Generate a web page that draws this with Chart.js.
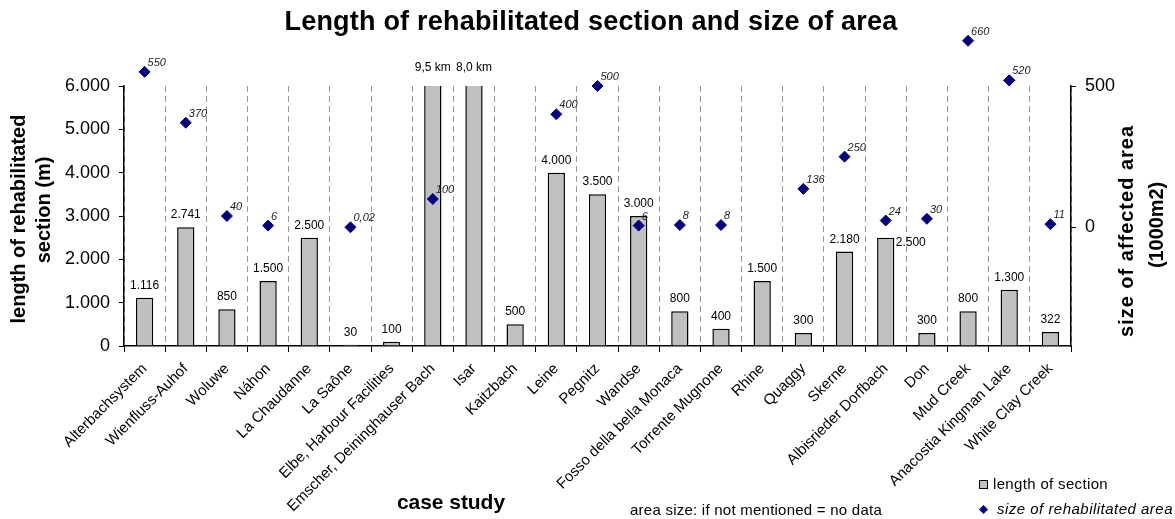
<!DOCTYPE html>
<html>
<head>
<meta charset="utf-8">
<script src="https://cdn.jsdelivr.net/npm/chart.js@4.4.1/dist/chart.umd.min.js"></script>
<style>
  html, body { margin: 0; padding: 0; background: #fff; }
  #wrap { width: 1175px; height: 519px; position: relative; }
</style>
</head>
<body>
<div id="wrap"><canvas id="chart"></canvas></div>
<script>
// case studies
var caseStudies = [
  "Alterbachsystem", "Wienfluss-Auhof", "Woluwe", "Náhon", "La Chaudanne",
  "La Saône", "Elbe, Harbour Facilities", "Emscher, Deininghauser Bach", "Isar",
  "Kaitzbach", "Leine", "Pegnitz", "Wandse", "Fosso della bella Monaca",
  "Torrente Mugnone", "Rhine", "Quaggy", "Skerne", "Albisrieder Dorfbach",
  "Don", "Mud Creek", "Anacostia Kingman Lake", "White Clay Creek"
];

// length of rehabilitated section (m)
var sectionLength = [
  1116, 2741, 850, 1500, 2500,
  30, 100, 9500, 8000,
  500, 4000, 3500, 3000, 800,
  400, 1500, 300, 2180, 2500,
  300, 800, 1300, 322
];

// size of affected area (1000 m2), null = no data
var areaSize = [
  550, 370, 40, 6, null,
  0.02, null, 100, null,
  null, 400, 500, 6, 8,
  8, null, 136, 250, 24,
  30, 660, 520, 11
];

var leftTicks = [0, 1000, 2000, 3000, 4000, 5000, 6000];
var rightTicks = [0, 500];

var FONT = "'Liberation Sans', Arial, sans-serif";

function fmtThousands(v) {
  return String(v).replace(/\B(?=(\d{3})+(?!\d))/g, ".");
}

function fmtLength(v) {
  if (v > 6000) {
    return (v / 1000).toFixed(1).replace(".", ",") + " km";
  }
  return fmtThousands(v);
}

function fmtArea(v) {
  return String(v).replace(".", ",");
}

// draw text stretched to a given width (the original is a bit wider)
function spacedText(ctx, txt, x, y, w, centered) {
  ctx.letterSpacing = "0px";
  var m = ctx.measureText(txt).width;
  var ls = (w - m) / txt.length;
  ctx.letterSpacing = ls + "px";
  ctx.textAlign = "left";
  ctx.fillText(txt, centered ? x - w / 2 : x, y);
  ctx.letterSpacing = "0px";
}

// labels, titles and legend
var textPlugin = {
  id: "texts",
  afterDatasetsDraw: function(chart) {
    var ctx = chart.ctx;
    var area = chart.chartArea;
    ctx.save();

    // bar value labels
    var bars = chart.getDatasetMeta(0).data;
    ctx.fillStyle = "#000";
    ctx.font = "12px " + FONT;
    ctx.textBaseline = "alphabetic";
    for (let i = 0; i < bars.length; i++) {
      let el = bars[i];
      let txt = fmtLength(sectionLength[i]);
      if (caseStudies[i] == "Albisrieder Dorfbach") {
        ctx.textAlign = "left";
        ctx.fillText(txt, el.x + 10, el.y + 8);
        continue;
      }
      ctx.textAlign = "center";
      if (el.y < area.top) {
        ctx.fillText(txt, el.x, area.top - 15);
      } else {
        ctx.fillText(txt, el.x, el.y - 9);
      }
    }

    // diamonds above the plot area are skipped by chart.js, draw them anyway
    var pts = chart.getDatasetMeta(1).data;
    var big = { left: -1e4, top: -1e4, right: 1e4, bottom: 1e4 };
    for (let i = 0; i < pts.length; i++) {
      if (areaSize[i] != null && pts[i].y < area.top) {
        pts[i].draw(ctx, big);
      }
    }

    // area labels
    ctx.font = "italic 11px " + FONT;
    ctx.textAlign = "left";
    ctx.fillStyle = "#222";
    for (let i = 0; i < pts.length; i++) {
      if (areaSize[i] == null) continue;
      ctx.fillText(fmtArea(areaSize[i]), pts[i].x + 3, pts[i].y - 6);
    }
    ctx.restore();
  },
  afterDraw: function(chart) {
    var ctx = chart.ctx;
    ctx.save();
    ctx.fillStyle = "#000";
    ctx.textBaseline = "middle";

    // main title
    ctx.font = "bold 27px " + FONT;
    spacedText(ctx, "Length of rehabilitated section and size of area", 591, 23, 613, true);

    // left axis title
    ctx.font = "bold 20px " + FONT;
    ctx.textAlign = "center";
    ctx.save();
    ctx.translate(19, 219);
    ctx.rotate(-Math.PI / 2);
    ctx.fillText("length of rehabilitated", 0, 0);
    ctx.fillText("section (m)", 9, 25);
    ctx.restore();

    // right axis title
    ctx.save();
    ctx.translate(1127, 231);
    ctx.rotate(-Math.PI / 2);
    spacedText(ctx, "size of affected area", 0, 0, 212, true);
    spacedText(ctx, "(1000m2)", 6, 30, 86, true);
    ctx.restore();

    // x title + note
    ctx.font = "bold 21px " + FONT;
    spacedText(ctx, "case study", 451, 503, 108, true);
    ctx.font = "15px " + FONT;
    spacedText(ctx, "area size: if not mentioned = no data", 756, 511, 252, true);

    // legend
    ctx.fillStyle = "#C0C0C0";
    ctx.fillRect(979.5, 480.5, 8, 8);
    ctx.strokeStyle = "#000";
    ctx.lineWidth = 1;
    ctx.strokeRect(979.5, 480.5, 8, 8);
    ctx.fillStyle = "#000";
    spacedText(ctx, "length of section", 993, 485, 115, false);

    ctx.fillStyle = "#000080";
    ctx.beginPath();
    ctx.moveTo(983.5, 505);
    ctx.lineTo(988, 509.5);
    ctx.lineTo(983.5, 514);
    ctx.lineTo(979, 509.5);
    ctx.closePath();
    ctx.fill();
    ctx.fillStyle = "#000";
    ctx.font = "italic 15px " + FONT;
    spacedText(ctx, "size of rehabilitated area", 997, 510, 176, false);
    ctx.restore();
  }
};

new Chart(document.getElementById("chart"), {
  type: "bar",
  data: {
    labels: caseStudies,
    datasets: [{
      label: "length of section",
      data: sectionLength,
      backgroundColor: "#C0C0C0",
      borderColor: "#000",
      borderWidth: 1.5,
      borderSkipped: "bottom",
      categoryPercentage: 1,
      barPercentage: 0.42,
      yAxisID: "y",
      order: 2
    }, {
      type: "line",
      label: "size of rehabilitated area",
      data: areaSize,
      showLine: false,
      pointStyle: "rectRot",
      pointRadius: 5.5,
      pointHoverRadius: 5.5,
      pointBackgroundColor: "#000080",
      pointBorderColor: "#000080",
      clip: false,
      yAxisID: "y2",
      order: 1
    }]
  },
  options: {
    responsive: true,
    maintainAspectRatio: false,
    animation: false,
    events: [],
    layout: { padding: { top: 86, left: 0, right: 0, bottom: 0 } },
    plugins: {
      legend: { display: false },
      tooltip: { enabled: false }
    },
    scales: {
      x: {
        offset: true,
        grid: {
          offset: true,
          color: "#999",
          lineWidth: 1,
          tickLength: 6,
          tickColor: "#000",
          tickBorderDash: []
        },
        border: { display: true, color: "#000", width: 1.5, dash: [6, 4] },
        ticks: {
          autoSkip: false,
          maxRotation: 45,
          minRotation: 45,
          padding: 8,
          color: "#000",
          font: { family: FONT, size: 15 }
        },
        afterFit: function(scale) { scale.height = 173; }
      },
      y: {
        position: "left",
        min: 0,
        max: 6000,
        afterBuildTicks: function(scale) {
          scale.ticks = leftTicks.map(function(v) { return { value: v }; });
        },
        grid: { drawOnChartArea: false, tickLength: 5, tickColor: "#000" },
        border: { display: true, color: "#000", width: 1.5 },
        ticks: {
          padding: 9,
          color: "#000",
          font: { family: FONT, size: 18 },
          callback: function(v) { return fmtThousands(v); }
        },
        afterFit: function(scale) { scale.width = 124; }
      },
      y2: {
        position: "right",
        min: -420,
        max: 500,
        afterBuildTicks: function(scale) {
          scale.ticks = rightTicks.map(function(v) { return { value: v }; });
        },
        grid: { drawOnChartArea: false, tickLength: 5, tickColor: "#000" },
        border: { display: true, color: "#000", width: 1.5 },
        ticks: {
          padding: 9,
          color: "#000",
          font: { family: FONT, size: 18 },
          callback: function(v) { return String(v); }
        },
        afterFit: function(scale) { scale.width = 104; }
      }
    }
  },
  plugins: [textPlugin]
});
</script>
</body>
</html>
